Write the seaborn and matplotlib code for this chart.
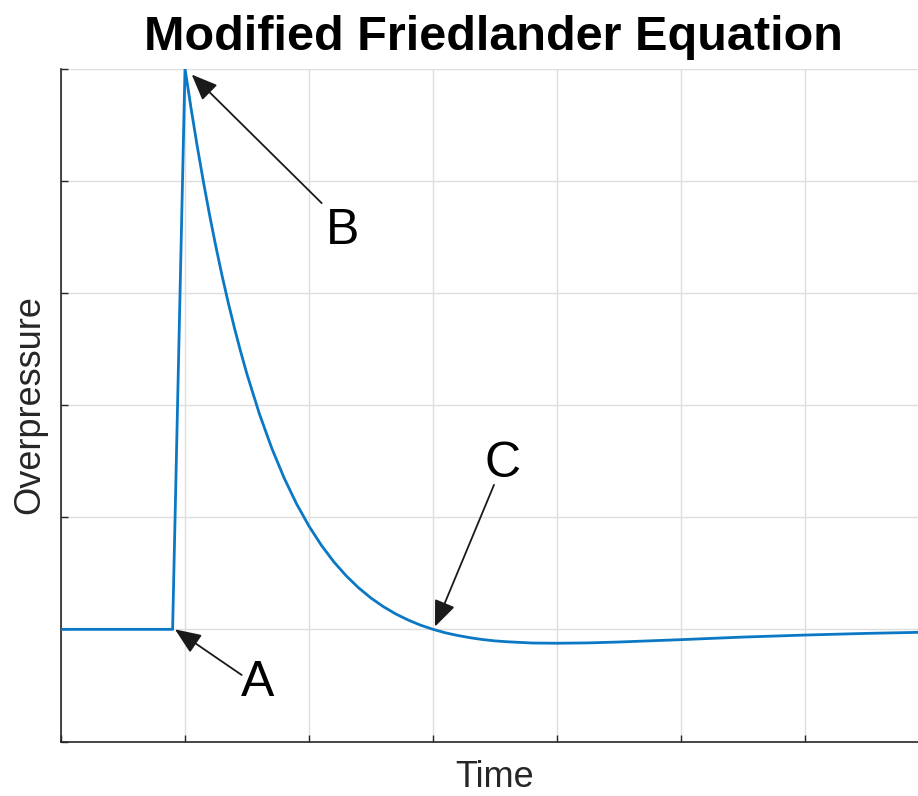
import matplotlib
matplotlib.use("Agg")
import matplotlib.pyplot as plt
import seaborn as sns
import pandas as pd

# ---- data ----
time = [0.0, 0.9, 1.0, 1.05, 1.1, 1.15, 1.2, 1.25, 1.3, 1.35, 1.4, 1.45, 1.5,
        1.6, 1.7, 1.8, 1.9, 2.0, 2.1, 2.2, 2.3, 2.4, 2.5, 2.6, 2.7, 2.8, 2.9,
        3.0, 3.1, 3.2, 3.3, 3.4, 3.5, 3.6, 3.8, 4.0, 4.25, 4.5, 5.0, 5.5,
        6.0, 6.5, 7.0]
overpressure = [0.0, 0.0, 5.0, 4.637, 4.298, 3.981, 3.684, 3.407, 3.148, 2.907,
                2.681, 2.471, 2.274, 1.921, 1.614, 1.348, 1.118, 0.920, 0.749,
                0.602, 0.477, 0.370, 0.279, 0.202, 0.137, 0.083, 0.037, 0.0,
                -0.031, -0.055, -0.075, -0.091, -0.103, -0.111, -0.122, -0.124,
                -0.121, -0.113, -0.092, -0.069, -0.051, -0.036, -0.025]
x_ticks = [0, 1, 2, 3, 4, 5, 6, 7]
y_ticks = [-1, 0, 1, 2, 3, 4, 5]

# annotation points: (label, text position, arrow tail, arrow tip)
labels = ["A", "B", "C"]
label_text_pos = [(1.585, -0.478), (2.274, 3.554), (3.56, 1.47)]
arrow_tail = [(1.457, -0.407), (2.102, 3.80), (3.492, 1.288)]
arrow_tip = [(0.919, 0.0), (1.054, 4.946), (3.016, 0.024)]

title = "Modified Friedlander Equation"
xlabel = "Time"
ylabel = "Overpressure"

df = pd.DataFrame({"Time": time, "Overpressure": overpressure})

sns.set_theme(style="white")
plt.rcParams["font.family"] = ["Liberation Sans", "DejaVu Sans"]

fig = plt.figure(figsize=(9.18, 7.96), dpi=100)
ax = fig.add_axes([61 / 918, 54.5 / 796, 868 / 918, 673 / 796])

sns.lineplot(data=df, x="Time", y="Overpressure", ax=ax, sort=False,
             estimator=None, color="#0a78c4", linewidth=2.0, zorder=3)

ax.set_xlim(0, 7)
ax.set_ylim(-1, 5)
ax.set_xticks(x_ticks)
ax.set_yticks(y_ticks)
ax.set_xticklabels([])
ax.set_yticklabels([])
ax.grid(True, color="#dedede", linewidth=1.0)
ax.set_axisbelow(True)

for s in ["top", "right"]:
    ax.spines[s].set_visible(False)
for s in ["left", "bottom"]:
    ax.spines[s].set_color("#262626")
    ax.spines[s].set_linewidth(1.2)
ax.tick_params(direction="in", length=5, width=1.0, color="#262626",
               left=True, bottom=True)

ax.set_xlabel(xlabel, fontsize=26, color="#262626", va="bottom")
ax.xaxis.set_label_coords(0.5, -0.0795)
ax.set_ylabel(ylabel, fontsize=26, color="#262626", va="center")
ax.yaxis.set_label_coords(-0.036, 0.5)

fig.text(493 / 918, 1 - 50 / 796, title, ha="center", va="baseline",
         fontsize=35, fontweight="bold", color="black")

for lab, tp, tail, tip in zip(labels, label_text_pos, arrow_tail, arrow_tip):
    ax.annotate("", xy=tip, xytext=tail, xycoords="data", textcoords="data",
                arrowprops=dict(arrowstyle="-|>,head_length=0.8,head_width=0.33",
                                mutation_scale=20, color="#1a1a1a", lw=1.3,
                                shrinkA=0, shrinkB=0), zorder=5)
    ax.text(tp[0], tp[1], lab, ha="center", va="center", fontsize=36,
            color="black", zorder=5)

fig.savefig("out.png", dpi=100)
